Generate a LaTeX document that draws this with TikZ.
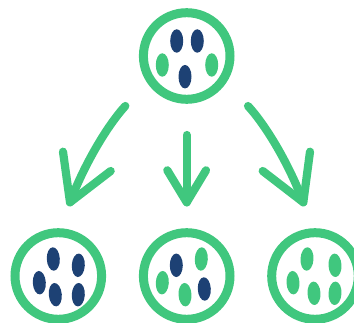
\documentclass[tikz,border=0pt]{standalone}
\usetikzlibrary{shapes.geometric}
\definecolor{leaf}{HTML}{40C77E}
\definecolor{ink}{HTML}{1D4174}
\tikzset{
  ring/.style={circle,draw=leaf,line width=9pt,inner sep=0pt,minimum size=86.6pt},
  seed/.style={ellipse,inner sep=0pt,minimum width=13pt,minimum height=23.5pt},
  navyseed/.style={seed,fill=ink},
  greenseed/.style={seed,fill=leaf},
  flow/.style={draw=leaf,line width=8.2pt,line cap=round,line join=round}
}
\begin{document}
\begin{tikzpicture}[x=1pt,y=-1pt]
\useasboundingbox (0,0) rectangle (354,323);
% rings
\node[ring] (top) at (186.7,56) {};
\node[ring] (left) at (58.3,276) {};
\node[ring] (mid) at (186.7,276) {};
\node[ring] (right) at (315,276) {};
% top seeds
\node[navyseed] (t1) at (176.7,41) {};
\node[navyseed] (t2) at (197.3,41) {};
\node[greenseed] (t3) at (162.3,65) {};
\node[greenseed] (t4) at (211.7,65) {};
\node[navyseed] (t5) at (185,76.7) {};
% left seeds
\node[navyseed,rotate=3] (l1) at (53.3,259) {};
\node[navyseed,rotate=-3] (l2) at (78.3,265.3) {};
\node[navyseed,rotate=3] (l3) at (39.3,282.7) {};
\node[navyseed,rotate=5] (l4) at (55.3,294.7) {};
\node[navyseed,rotate=-3] (l5) at (78.3,294.7) {};
% middle seeds
\node[navyseed] (m1) at (176.3,265.3) {};
\node[greenseed,rotate=-3] (m2) at (201.3,259) {};
\node[greenseed,rotate=-3] (m3) at (162.3,282.7) {};
\node[greenseed,rotate=3] (m4) at (185,294.7) {};
\node[navyseed,rotate=3] (m5) at (204.3,289) {};
% right seeds
\node[greenseed,rotate=-3] (r1) at (307,259) {};
\node[greenseed,rotate=3] (r2) at (335,265.3) {};
\node[greenseed,rotate=3] (r3) at (293,282.7) {};
\node[greenseed,rotate=3] (r4) at (314,293.3) {};
\node[greenseed,rotate=-3] (r5) at (335,293.3) {};
% arrow anchor points
\coordinate (ls) at (125.3,106);
\coordinate (lt) at (70,202.3);
\coordinate (la) at (63,151.7);
\coordinate (lb) at (110.7,171);
\coordinate (ms) at (186.7,135);
\coordinate (mt) at (186.7,202.3);
\coordinate (ma) at (167.3,170.3);
\coordinate (mb) at (206,170.3);
\coordinate (rs) at (248,106);
\coordinate (rt) at (303.3,202.3);
\coordinate (ra) at (310,151.7);
\coordinate (rb) at (262.7,171);
% arrows
\draw[flow] (ls) .. controls (107,126) and (84,165) .. (lt);
\draw[flow] (la) -- (lt) -- (lb);
\draw[flow] (ms) -- (mt);
\draw[flow] (ma) -- (mt) -- (mb);
\draw[flow] (rs) .. controls (266.4,126) and (289.4,165) .. (rt);
\draw[flow] (ra) -- (rt) -- (rb);
\end{tikzpicture}
\end{document}
